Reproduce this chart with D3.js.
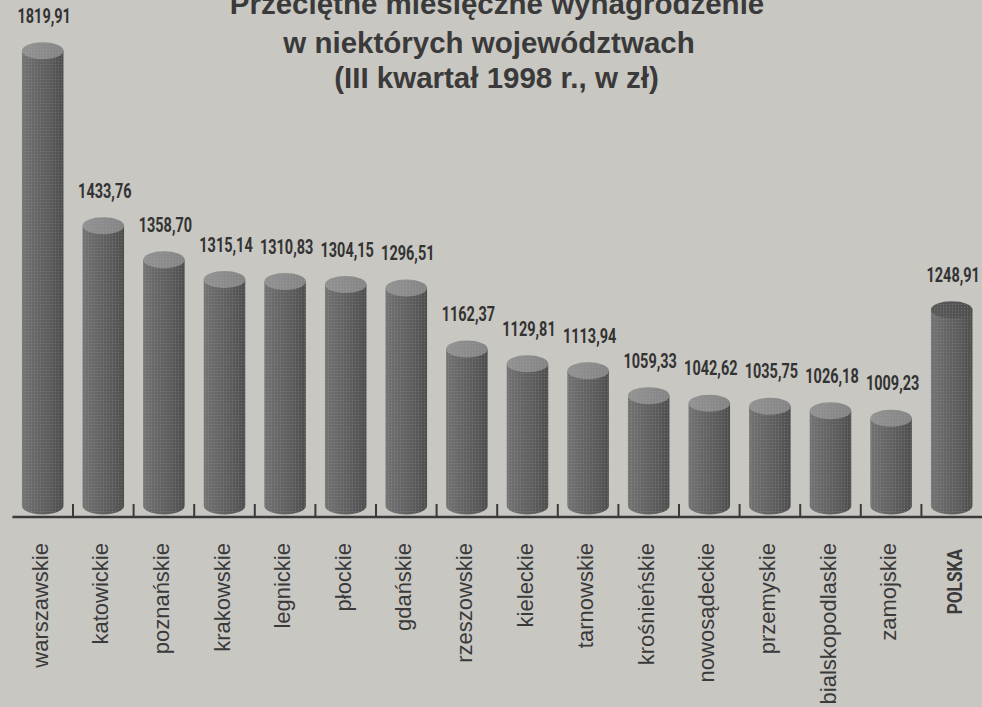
<!DOCTYPE html>
<html lang="pl">
<head>
<meta charset="utf-8">
<title>Przeciętne miesięczne wynagrodzenie</title>
<script src="https://cdn.jsdelivr.net/npm/d3@7"></script>
<style>
  html, body { margin: 0; padding: 0; background: #c9c7c2; }
  svg { display: block; }
</style>
</head>
<body>
<div id="chart"></div>
<script>
// Average monthly wage by voivodeship, Q3 1998 (PLN)
const regions = [
  "warszawskie", "katowickie", "poznańskie", "krakowskie", "legnickie",
  "płockie", "gdańskie", "rzeszowskie", "kieleckie", "tarnowskie",
  "krośnieńskie", "nowosądeckie", "przemyskie", "bialskopodlaskie",
  "zamojskie", "POLSKA"
];
const wages = [
  1819.91, 1433.76, 1358.70, 1315.14, 1310.83,
  1304.15, 1296.51, 1162.37, 1129.81, 1113.94,
  1059.33, 1042.62, 1035.75, 1026.18,
  1009.23, 1248.91
];
const titleLines = [
  "Przeciętne miesięczne wynagrodzenie",
  "w niektórych województwach",
  "(III kwartał 1998 r., w zł)"
];
const totalLabel = "POLSKA";

const W = 982, H = 707;
const data = regions.map((r, i) => ({ region: r, value: wages[i] }));

const pl = d3.formatLocale({ decimal: ",", thousands: " ", grouping: [3], currency: ["", " zł"] });
const fmt = pl.format(".2f");

const svg = d3.select("#chart").append("svg")
  .attr("width", W).attr("height", H)
  .attr("viewBox", `0 0 ${W} ${H}`);

const defs = svg.append("defs");

// cylinder body shading (light on the left, dark on the right)
const body = defs.append("linearGradient").attr("id", "body").attr("x1", "0").attr("x2", "1");
[[0, "#747474"], [0.3, "#686868"], [0.7, "#5b5b5b"], [1, "#4d4d4d"]]
  .forEach(([o, c]) => body.append("stop").attr("offset", o).attr("stop-color", c));

const topFill = defs.append("linearGradient").attr("id", "topFill").attr("x1", "0").attr("x2", "1");
[[0, "#939393"], [1, "#848484"]]
  .forEach(([o, c]) => topFill.append("stop").attr("offset", o).attr("stop-color", c));

const topDark = defs.append("linearGradient").attr("id", "topDark").attr("x1", "0").attr("x2", "1");
[[0, "#5a5a5a"], [1, "#4e4e4e"]]
  .forEach(([o, c]) => topDark.append("stop").attr("offset", o).attr("stop-color", c));

// halftone screen
const dots = defs.append("pattern").attr("id", "dots")
  .attr("width", 3).attr("height", 3).attr("patternUnits", "userSpaceOnUse");
dots.append("circle").attr("cx", 1.5).attr("cy", 1.5).attr("r", 0.7).attr("fill", "#b0b0b0").attr("opacity", 0.3);

const x = d3.scaleBand()
  .domain(regions)
  .range([12.4, 982])
  .paddingInner(0.315)
  .paddingOuter(0.1575);

// value axis starts above zero; the cylinder bottoms sit at the base value
const y = d3.scaleLinear().domain([816, 1820]).range([506, 50.6]);

const rx = x.bandwidth() / 2;
const ry = 8.5;
const yBase = y.range()[0];

// title
const title = svg.append("g")
  .attr("font-family", "'Liberation Sans', Arial, Helvetica, sans-serif")
  .attr("font-weight", "bold")
  .attr("font-size", 29.5)
  .attr("fill", "#3a3a3a")
  .attr("text-anchor", "middle");
const titleY = [14, 52.5, 88];
title.selectAll("text").data(titleLines).join("text")
  .attr("x", (d, i) => [497, 489, 496.5][i])
  .attr("y", (d, i) => titleY[i])
  .text(d => d);

// cylinders
const bars = svg.append("g").selectAll("g").data(data).join("g");
const bodyPath = d => {
  const x0 = x(d.region), x1 = x0 + x.bandwidth(), yt = y(d.value);
  return `M${x0},${yt} L${x0},${yBase} A${rx},${ry} 0 0 0 ${x1},${yBase} L${x1},${yt} Z`;
};

bars.append("path").attr("d", bodyPath).attr("fill", "url(#body)");
bars.append("path").attr("d", bodyPath).attr("fill", "url(#dots)");

bars.append("ellipse")
  .attr("cx", d => x(d.region) + rx)
  .attr("cy", d => y(d.value))
  .attr("rx", rx).attr("ry", ry)
  .attr("fill", d => d.region === totalLabel ? "url(#topDark)" : "url(#topFill)");

bars.append("ellipse")
  .attr("cx", d => x(d.region) + rx)
  .attr("cy", d => y(d.value))
  .attr("rx", rx).attr("ry", ry)
  .attr("fill", "url(#dots)");

// value labels in a condensed face
bars.append("text")
  .attr("transform", d => `translate(${x(d.region) + rx + 1.5},${y(d.value) - 28}) scale(0.69,1)`)
  .attr("text-anchor", "middle")
  .attr("font-family", "Roboto, 'Liberation Sans', sans-serif")
  .attr("font-weight", "bold")
  .attr("font-size", 21)
  .attr("fill", "#333")
  .text(d => fmt(d.value));

// baseline with ticks between the bars
svg.append("line")
  .attr("x1", x.range()[0]).attr("x2", x.range()[1])
  .attr("y1", 517).attr("y2", 517)
  .attr("stroke", "#3a3a3a").attr("stroke-width", 2.5);

const tickX = regions.slice(0, -1).map(r => x(r) + rx + x.step() / 2);
svg.append("g").selectAll("line").data(tickX).join("line")
  .attr("x1", d => d).attr("x2", d => d)
  .attr("y1", 504).attr("y2", 517)
  .attr("stroke", "#3a3a3a").attr("stroke-width", 2);

// region names, rotated
svg.append("g").selectAll("text").data(data).join("text")
  .attr("transform", d => d.region === totalLabel
    ? `translate(${x(d.region) + rx + 10},549) rotate(-90) scale(0.82,1)`
    : `translate(${x(d.region) + rx + 5},543) rotate(-90)`)
  .attr("text-anchor", "end")
  .attr("font-family", d => d.region === totalLabel
    ? "Roboto, 'Liberation Sans', sans-serif"
    : "'Liberation Sans', Arial, Helvetica, sans-serif")
  .attr("font-weight", d => d.region === totalLabel ? "bold" : "normal")
  .attr("font-size", d => d.region === totalLabel ? 21 : 22)
  .attr("fill", "#3a3a3a")
  .text(d => d.region);
</script>
</body>
</html>
